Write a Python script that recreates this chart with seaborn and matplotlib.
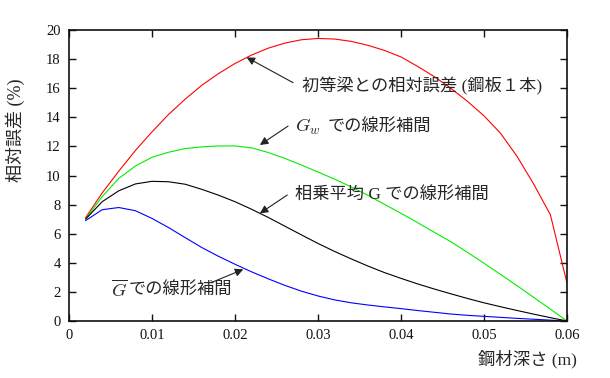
import matplotlib
matplotlib.use("Agg")
import matplotlib.pyplot as plt
import numpy as np
import pandas as pd
import seaborn as sns

# depth of steel (m), one point every 2 mm
depth = np.round(np.arange(1, 31) * 0.002, 3)

err_beam = [7.1, 8.8, 10.3, 11.72, 13.0, 14.2, 15.25, 16.2, 17.0, 17.7,
            18.28, 18.75, 19.1, 19.33, 19.42, 19.38, 19.22, 18.95, 18.6, 18.15,
            17.5, 16.8, 16.0, 15.1, 14.1, 12.9, 11.3, 9.4, 7.3, 2.6]
err_gw = [7.0, 8.55, 9.8, 10.65, 11.25, 11.6, 11.85, 11.97, 12.03, 12.03,
          11.9, 11.58, 11.18, 10.72, 10.24, 9.75, 9.22, 8.64, 8.02, 7.4,
          6.76, 6.1, 5.45, 4.72, 3.97, 3.2, 2.42, 1.62, 0.81, 0.0]
err_geo = [7.0, 8.2, 8.95, 9.42, 9.6, 9.57, 9.4, 9.05, 8.65, 8.2,
           7.68, 7.12, 6.52, 5.92, 5.33, 4.78, 4.27, 3.78, 3.33, 2.93,
           2.55, 2.2, 1.87, 1.55, 1.25, 0.98, 0.72, 0.47, 0.23, 0.0]
err_gbar = [6.9, 7.65, 7.8, 7.58, 7.05, 6.42, 5.73, 5.05, 4.45, 3.9,
            3.38, 2.9, 2.45, 2.05, 1.72, 1.45, 1.25, 1.1, 0.97, 0.85,
            0.72, 0.6, 0.48, 0.39, 0.32, 0.25, 0.18, 0.12, 0.06, 0.0]

series = {"beam": err_beam, "gw": err_gw, "geo": err_geo, "gbar": err_gbar}
colors = {"beam": "#ff0000", "gw": "#00ee00", "geo": "#000000", "gbar": "#0000ff"}

df = pd.concat(
    [pd.DataFrame({"depth": depth, "err": v, "curve": k}) for k, v in series.items()],
    ignore_index=True,
)

sns.set_theme(style="ticks")
plt.rcParams["font.family"] = ["Liberation Serif", "Noto Sans CJK JP"]
plt.rcParams["mathtext.fontset"] = "cm"

fig = plt.figure(figsize=(6.1, 3.78), dpi=100)
ax = fig.add_axes([0.1131, 0.1508, 0.8164, 0.7698])

sns.lineplot(data=df, x="depth", y="err", hue="curve", palette=colors,
             linewidth=0.8, legend=False, ax=ax, estimator=None)

ax.set_xlim(0, 0.06)
ax.set_ylim(0, 20)
ax.set_xticks([0, 0.01, 0.02, 0.03, 0.04, 0.05, 0.06])
ax.set_xticklabels(["0", "0.01", "0.02", "0.03", "0.04", "0.05", "0.06"])
ax.set_yticks(range(0, 21, 2))
ax.tick_params(direction="in", length=5, width=1, top=True, right=True,
               labelsize=10.5, colors="#111111", pad=6)
for sp in ax.spines.values():
    sp.set_linewidth(1.2)
    sp.set_color("#111111")
    sp.set_visible(True)

ax.set_ylabel("相対誤差 (%)", fontsize=13)
ax.yaxis.set_label_coords(-0.088, 0.656)
ax.set_xlabel("鋼材深さ (m)", fontsize=12.5, ha="right", va="center")
ax.xaxis.set_label_coords(1.02, -0.13)

arrow = dict(arrowstyle="-|>", color="#222222", lw=0.8, mutation_scale=12,
             shrinkA=0, shrinkB=0)
fs = 12.4

ax.annotate("", xy=(0.0214, 18.12), xytext=(0.0270, 16.38), arrowprops=arrow)
ax.text(0.0281, 16.15, "初等梁との相対誤差 (鋼板１本)", fontsize=fs, va="center")

ax.annotate("", xy=(0.0230, 12.1), xytext=(0.0264, 13.4), arrowprops=arrow)
ax.text(0.0272, 13.35, "$G_w$", fontsize=fs + 1, va="center")
ax.text(0.0312, 13.35, "での線形補間", fontsize=fs, va="center")

ax.annotate("", xy=(0.0230, 7.4), xytext=(0.0263, 8.66), arrowprops=arrow)
ax.text(0.0272, 8.66, "相乗平均 G での線形補間", fontsize=fs, va="center")

ax.annotate("", xy=(0.0210, 3.55), xytext=(0.0174, 2.70), arrowprops=arrow)
ax.text(0.0051, 2.13, r"$\overline{G}$", fontsize=fs + 1, va="center")
ax.text(0.00715, 2.13, "での線形補間", fontsize=fs, va="center")

fig.savefig("out.png", dpi=100)
